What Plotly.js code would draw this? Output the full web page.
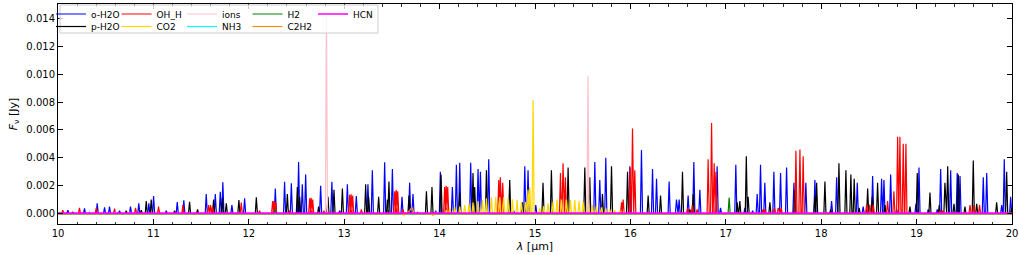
<!DOCTYPE html>
<html><head><meta charset="utf-8">
<script src="https://cdn.plot.ly/plotly-3.0.1.min.js"></script>
<style>html,body{margin:0;padding:0;background:#fff}</style>
</head><body><div id="chart" style="width:1019px;height:255px"></div>
<script>
// ---- line lists (wavelength µm, peak flux Jy) ----
const oh2o_wl = [10.103,10.278,10.411,10.488,10.540,10.645,10.760,10.847,10.952,11.002,11.135,11.250,11.319,11.554,11.649,11.701,11.728,11.823,11.956,
12.278,12.375,12.446,12.522,12.561,12.596,12.753,12.871,12.952,13.033,13.127,13.249,13.295,13.424,13.505,13.606,13.686,13.721,13.959,
14.008,14.134,14.176,14.211,14.326,14.403,14.428,14.515,14.777,14.893,14.927,15.008,15.627,15.679,15.742,15.994,
16.116,16.232,16.274,16.406,16.483,16.511,16.605,16.665,16.728,16.909,16.945,17.105,17.200,17.281,17.329,17.364,17.409,17.504,17.574,17.637,17.714,17.839,17.934,
18.109,18.162,18.378,18.440,18.539,18.633,18.658,18.728,18.791,18.993,19.025,19.122,19.217,19.252,19.357,19.426,19.455,19.699,19.735,19.892,19.919,19.986];
const oh2o_f = [0.00025,0.00037,0.00073,0.00045,0.0005,0.0002,0.0005,0.00073,0.00073,0.00126,0.0002,0.00083,0.00095,0.0014,0.0014,0.00157,0.00224,0.0006,0.0011,
0.0018,0.00228,0.00217,0.0037,0.0021,0.0028,0.002,0.00228,0.0002,0.0021,0.00125,0.0021,0.0031,0.00367,0.0032,0.0012,0.0022,0.0014,0.0002,
0.003,0.0019,0.0035,0.00365,0.00365,0.0032,0.003,0.0039,0.0002,0.0034,0.0031,0.0006,0.0037,0.0024,0.004,0.0034,
0.00455,0.0032,0.0025,0.0023,0.001,0.001,0.0013,0.0037,0.0017,0.0034,0.0004,0.0035,0.0004,0.0002,0.0014,0.0035,0.0022,0.003,0.0029,0.0033,0.0022,0.0022,0.0024,
0.0009,0.0026,0.0022,0.0005,0.0027,0.0025,0.0024,0.0028,0.0003,0.0007,0.0033,0.0003,0.0003,0.0032,0.0031,0.0029,0.0027,0.0026,0.0029,0.0006,0.0039,0.0012];

const ph2o_wl = [10.155,10.715,10.873,10.925,10.977,11.222,11.379,11.463,11.631,11.722,11.764,11.896,12.079,12.404,12.509,12.533,12.732,12.830,12.893,12.981,
13.225,13.256,13.361,13.453,13.469,13.679,13.862,13.920,14.015,14.211,14.350,14.368,14.491,14.735,14.868,15.084,15.172,15.347,15.522,15.574,15.707,15.802,15.970,
16.186,16.316,16.546,16.623,16.658,17.119,17.147,17.215,17.234,17.462,17.724,17.934,17.952,18.039,18.099,18.186,18.259,18.311,18.346,18.398,18.487,18.535,18.591,18.668,
18.930,19.007,19.140,19.238,19.297,19.326,19.392,19.437,19.507,19.594,19.630,19.839,19.944,19.997];
const ph2o_f = [0.0001,0.0002,0.00025,0.0009,0.001,0.0002,0.00085,0.0003,0.001,0.0011,0.00073,0.00097,0.00116,0.0014,0.0019,0.0012,0.0005,0.0012,0.0017,0.0018,
0.0021,0.0012,0.0012,0.001,0.0023,0.0013,0.0016,0.0019,0.0028,0.0015,0.0029,0.0019,0.0031,0.0024,0.0008,0.0022,0.0031,0.0033,0.0033,0.0026,0.0014,0.0034,0.003,
0.0013,0.0013,0.003,0.0003,0.0014,0.0008,0.0009,0.0041,0.0012,0.0008,0.0017,0.0012,0.0022,0.0023,0.0003,0.0036,0.0031,0.0028,0.0025,0.0004,0.0018,0.0012,0.0022,0.0006,
0.0005,0.0029,0.0015,0.0006,0.0022,0.0034,0.0007,0.0028,0.0005,0.0038,0.0007,0.0008,0.003,0.0004];

const oh_wl = [10.050,10.225,10.401,10.593,10.813,11.054,11.309,11.578,11.599,11.620,11.816,11.921,12.113,12.250,12.266,12.282,12.428,12.638,12.654,12.670,12.788,
13.057,13.073,13.089,13.180,13.530,13.546,13.561,13.616,13.770,14.053,14.069,14.085,14.106,14.620,14.637,14.662,15.267,15.294,15.319,
15.907,15.924,15.997,16.022,16.046,16.602,16.650,16.700,16.815,16.851,16.878,16.896,17.390,17.410,17.510,17.550,17.580,17.735,17.777,17.811,
18.476,18.510,18.545,18.696,18.762,18.801,18.825,18.860,18.888,19.245,19.270,19.560,19.600,19.660];
const oh_f = [0.00024,0.0004,0.0004,0.00035,0.0004,0.0005,0.0006,0.0006,0.0006,0.0005,0.0001,0.00078,0.0002,0.0009,0.00092,0.0008,0.0002,0.0011,0.00113,0.001,0.0002,
0.00135,0.00138,0.0013,0.0003,0.0016,0.00169,0.0016,0.0003,0.0001,0.0019,0.002,0.0019,0.0003,0.0024,0.0026,0.0022,0.0029,0.0036,0.0026,
0.0008,0.001,0.0033,0.0061,0.0031,0.0004,0.0006,0.0003,0.0039,0.0065,0.0036,0.003,0.0003,0.0003,0.0004,0.0004,0.0004,0.0045,0.0046,0.0041,
0.00065,0.00065,0.00065,0.0009,0.0016,0.0055,0.0055,0.005,0.005,0.0002,0.0002,0.0006,0.0006,0.0006];

const co2_wl = [14.071,14.106,14.158,14.211,14.263,14.308,14.350,14.403,14.449,14.491,14.543,14.588,14.630,14.672,14.717,14.763,14.812,14.858,14.903,14.927,14.945,14.980,
15.050,15.092,15.137,15.189,15.231,15.277,15.330,15.372,15.417,15.462,15.504,15.556,15.602,15.644,15.697,15.742,15.784,15.836,15.889,15.930];
const co2_f = [0.00025,0.0004,0.00049,0.0005,0.0006,0.00073,0.00078,0.0009,0.00097,0.0011,0.00116,0.0012,0.00116,0.00116,0.0011,0.00103,0.00097,0.00085,0.00085,0.0017,0.0019,0.00815,
0.00037,0.00054,0.00073,0.00085,0.001,0.001,0.001,0.00097,0.00097,0.00092,0.00085,0.00073,0.0006,0.00054,0.00044,0.00037,0.0003,0.00025,0.0002,0.00015];

const ion_wl = [12.814,15.555];
const ion_f = [0.0143,0.00987];

const nh3_wl = [10.020,10.330,10.600,10.750];
const nh3_f = [0.0001,0.00012,0.0001,0.00008];

const h2_wl = [12.279,17.035];
const h2_f = [0.0003,0.00115];

const c2h2_wl = [10.0,13.60,13.625,13.65,13.685,13.71,13.735,13.90,13.93,13.96,13.99,20.0];
const c2h2_f = [0,0,-0.0001,0,0.0002,0.00045,0,0,-0.00012,0.0001,0,0];

const hcn_wl = [10.0,13.99,14.03,14.07,20.0];
const hcn_f = [0.00003,0.00003,0.00008,0.00003,0.00003];

const xTicks = [10,11,12,13,14,15,16,17,18,19,20];
const yTicks = [0,0.002,0.004,0.006,0.008,0.010,0.012,0.014];

// ---- build spike profiles from the line lists ----
function spikes(wl, f, hw) {
  const idx = wl.map((_, i) => i).sort((a, b) => wl[a] - wl[b]);
  const x = [10], y = [0];
  idx.forEach(i => { x.push(wl[i] - hw, wl[i], wl[i] + hw); y.push(0, f[i], 0); });
  x.push(20); y.push(0);
  return {x, y};
}
const HW = 0.011;
function spikeTrace(name, wl, f, color, legend) {
  const s = spikes(wl, f, HW);
  return {type:'scatter', mode:'lines', x:s.x, y:s.y, name:name, legend:legend,
          line:{color:color, width:1.2}, hoverinfo:'skip'};
}
const data = [
  spikeTrace('o-H2O', oh2o_wl, oh2o_f, '#0000ff', 'legend'),
  spikeTrace('p-H2O', ph2o_wl, ph2o_f, '#000000', 'legend2'),
  spikeTrace('OH_H', oh_wl, oh_f, '#ff0000', 'legend'),
  spikeTrace('CO2', co2_wl, co2_f, '#ffd700', 'legend2'),
  spikeTrace('ions', ion_wl, ion_f, '#ffc0cb', 'legend'),
  spikeTrace('NH3', nh3_wl, nh3_f, '#00ffff', 'legend2'),
  spikeTrace('H2', h2_wl, h2_f, '#008000', 'legend'),
  {type:'scatter', mode:'lines', x:c2h2_wl, y:c2h2_f, name:'C2H2', legend:'legend2',
   line:{color:'#ff8c00', width:1.2}, hoverinfo:'skip'},
  {type:'scatter', mode:'lines', x:hcn_wl, y:hcn_f, name:'HCN', legend:'legend',
   line:{color:'#ff00ff', width:1.6}, hoverinfo:'skip'}
];

const FONT = 'DejaVu Sans, sans-serif';
const legBase = {orientation:'h', xanchor:'left', yanchor:'top', bgcolor:'rgba(0,0,0,0)',
  borderwidth:0, font:{family:FONT, size:9, color:'#000'}, entrywidth:20.5, entrywidthmode:'pixels',
  itemwidth:30, traceorder:'normal', itemclick:false};

const layout = {
  width:1019, height:255,
  margin:{l:58, r:7, t:4, b:31, pad:0, autoexpand:false},
  paper_bgcolor:'#fff', plot_bgcolor:'#fff',
  font:{family:FONT, size:10, color:'#000'},
  showlegend:true,
  legend:Object.assign({}, legBase, {x:-0.0073, y:1.0205, yref:'paper'}),
  legend2:Object.assign({}, legBase, {x:-0.0073, y:0.9636, yref:'paper'}),
  xaxis:{range:[10,20], tickvals:xTicks, ticktext:xTicks.map(String),
    ticks:'inside', ticklen:5, tickwidth:1, tickcolor:'#000',
    showline:true, linecolor:'#000', linewidth:1, mirror:'allticks',
    showgrid:false, zeroline:false,
    minor:{dtick:0.2, tick0:10, ticks:'inside', ticklen:2.5, tickwidth:0.8, tickcolor:'#000', showgrid:false},
    tickfont:{size:10},
    title:{text:'<i>λ</i> [µm]', font:{size:11}, standoff:4}},
  yaxis:{range:[-0.00075,0.01503], tickvals:yTicks, ticktext:yTicks.map(v=>v.toFixed(3)),
    ticks:'inside', ticklen:5, tickwidth:1, tickcolor:'#000',
    showline:true, linecolor:'#000', linewidth:1, mirror:'allticks',
    showgrid:false, zeroline:false, tickfont:{size:10},
    title:{text:'<i>F</i><sub>ν</sub> [Jy]', font:{size:11}, standoff:6}},
  shapes:[{type:'rect', xref:'paper', yref:'paper', x0:0.0021, x1:0.3354, y0:0.868, y1:0.9955,
    fillcolor:'rgba(255,255,255,0.8)', line:{color:'#cccccc', width:1}, layer:'above'}]
};

Plotly.newPlot('chart', data, layout, {staticPlot:true, displayModeBar:false});
</script></body></html>
